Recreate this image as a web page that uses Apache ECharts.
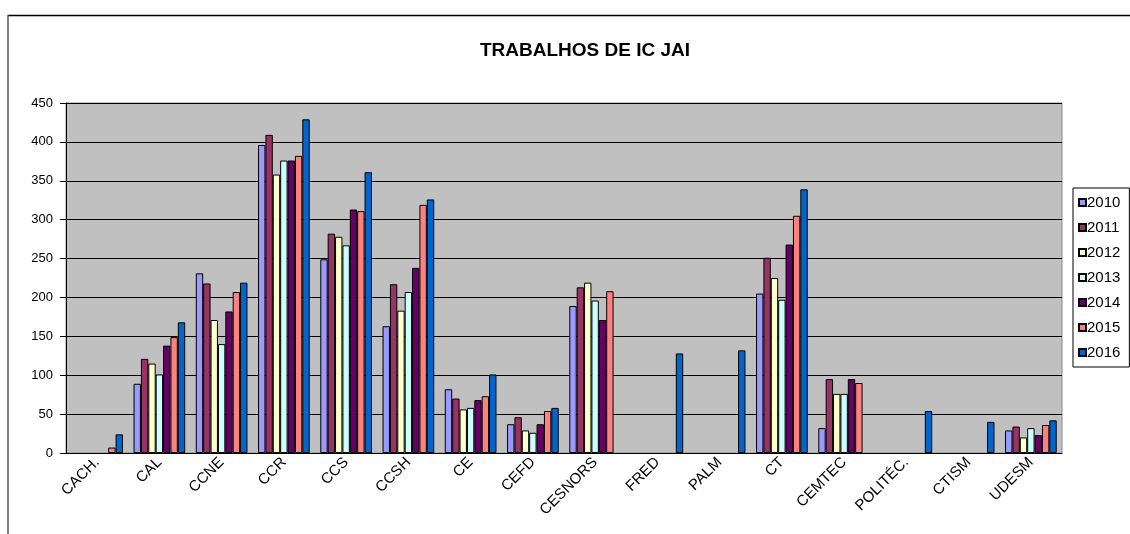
<!DOCTYPE html>
<html>
<head>
<meta charset="utf-8">
<title>Trabalhos de IC JAI</title>
<script src="https://cdn.jsdelivr.net/npm/echarts@6/dist/echarts.min.js"></script>
<style>
  html, body { margin: 0; padding: 0; background: #ffffff; }
  #chart { width: 1130px; height: 534px; }
</style>
</head>
<body>
<div id="chart"></div>
<script>
// Units (categories along the x axis)
const categories = ['CACH.', 'CAL', 'CCNE', 'CCR', 'CCS', 'CCSH', 'CE', 'CEFD', 'CESNORS',
  'FRED', 'PALM', 'CT', 'CEMTEC', 'POLITÉC.', 'CTISM', 'UDESM'];

// Number of papers per year, one value per unit (null = no bar)
const y2010 = [null, 89, 231, 396, 249, 163, 82, 37, 189, null, null, 205, 32, null, null, 29];
const y2011 = [null, 121, 218, 409, 282, 217, 70, 46, 213, null, null, 251, 95, null, null, 34];
const y2012 = [null, 115, 171, 358, 278, 183, 56, 29, 219, null, null, 225, 76, null, null, 20];
const y2013 = [null, 101, 140, 376, 267, 207, 58, 26, 196, null, null, 197, 76, null, null, 32];
const y2014 = [null, 138, 182, 376, 313, 238, 68, 37, 171, null, null, 268, 95, null, null, 23];
const y2015 = [7, 149, 207, 382, 311, 319, 73, 54, 208, null, null, 305, 90, null, null, 36];
const y2016 = [24, 168, 219, 429, 361, 326, 101, 58, null, 128, 132, 339, null, 54, 40, 42];

const years = ['2010', '2011', '2012', '2013', '2014', '2015', '2016'];
const yearValues = [y2010, y2011, y2012, y2013, y2014, y2015, y2016];
const colors = ['#9999FF', '#993366', '#FFFFCC', '#CCFFFF', '#660066', '#FF8080', '#0066CC'];

const FONT = 'Liberation Sans, Arial, sans-serif';

const chart = echarts.init(document.getElementById('chart'), null, { renderer: 'canvas' });

const series = years.map((name, i) => ({
  name: name,
  type: 'bar',
  data: yearValues[i],
  barGap: '0%',
  barCategoryGap: '17%',
  itemStyle: { color: colors[i], borderColor: '#000000', borderWidth: 1 },
  emphasis: { disabled: true }
}));

chart.setOption({
  animation: false,
  backgroundColor: '#ffffff',
  title: {
    text: 'TRABALHOS DE IC JAI',
    left: 580,
    top: 36,
    textAlign: 'center',
    textStyle: { fontFamily: FONT, fontSize: 19, fontWeight: 'bold', color: '#000000' }
  },
  graphic: [
    // chart frame: top and left edges
    { type: 'line', shape: { x1: 8, y1: 15.5, x2: 1130, y2: 15.5 }, style: { stroke: '#000000', lineWidth: 1.5 }, silent: true },
    { type: 'line', shape: { x1: 8, y1: 15, x2: 8, y2: 534 }, style: { stroke: '#555555', lineWidth: 1.5 }, silent: true }
  ],
  legend: {
    orient: 'vertical',
    left: 1073,
    top: 188,
    data: years,
    itemWidth: 7,
    itemHeight: 7,
    itemGap: 10,
    padding: [7, 9, 7, 5],
    backgroundColor: '#ffffff',
    borderColor: '#000000',
    borderWidth: 1,
    borderRadius: 0,
    icon: 'rect',
    textStyle: { fontFamily: FONT, fontSize: 15, color: '#000000', lineHeight: 14, padding: [0, 0, 0, -4] }
  },
  grid: {
    left: 66,
    right: 68,
    top: 103,
    bottom: 81,
    show: true,
    backgroundColor: '#C0C0C0',
    borderColor: '#8a8a8a',
    borderWidth: 1
  },
  xAxis: {
    type: 'category',
    data: categories,
    axisLine: { lineStyle: { color: '#000000', width: 1 } },
    axisTick: { alignWithLabel: false, length: 5, lineStyle: { color: '#000000' } },
    axisLabel: {
      interval: 0,
      rotate: 45,
      margin: 7,
      fontFamily: FONT,
      fontSize: 15,
      color: '#000000'
    }
  },
  yAxis: {
    type: 'value',
    min: 0,
    max: 450,
    interval: 50,
    axisLine: { show: true, lineStyle: { color: '#000000', width: 1 } },
    axisTick: { show: true, length: 6, lineStyle: { color: '#000000' } },
    splitLine: { lineStyle: { color: '#000000', width: 1 } },
    axisLabel: { margin: 13, fontFamily: FONT, fontSize: 13, color: '#000000' }
  },
  series: series
});
</script>
</body>
</html>
